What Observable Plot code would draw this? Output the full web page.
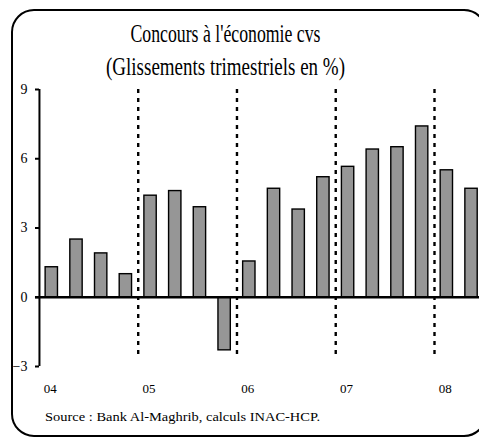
<!DOCTYPE html>
<html>
<head>
<meta charset="utf-8">
<script src="https://cdn.jsdelivr.net/npm/d3@7"></script>
<script src="https://cdn.jsdelivr.net/npm/@observablehq/plot@0.6"></script>
<style>
  html, body { margin: 0; padding: 0; background: white; overflow: hidden; width: 479px; height: 437px; }
  #wrap { position: relative; width: 479px; height: 437px; overflow: hidden; background: white; }
  #chart { position: absolute; left: 0; top: 0; width: 479px; height: 437px; overflow: hidden; }
  #chart svg { max-width: none !important; }
  #texts { position: absolute; left: 0; top: 0; font-family: 'Liberation Serif', 'Times New Roman', serif; }
</style>
</head>
<body>
<div id="wrap">
  <div id="chart"></div>
  <svg id="texts" width="479" height="437" viewBox="0 0 479 437">
    <rect x="12" y="10" width="474" height="426" rx="22" ry="22" fill="none" stroke="black" stroke-width="2"></rect>
    <text id="t1" x="225.5" y="42" text-anchor="middle" font-size="25.5" textLength="190" lengthAdjust="spacingAndGlyphs"></text>
    <text id="t2" x="225.5" y="75" text-anchor="middle" font-size="25.5" textLength="239" lengthAdjust="spacingAndGlyphs"></text>
    <text id="src" x="45" y="421" font-size="13.5" textLength="275" lengthAdjust="spacingAndGlyphs"></text>
  </svg>
</div>
<script>
const titleLine1 = "Concours à l'économie cvs";
const titleLine2 = "(Glissements trimestriels en %)";
const sourceText = "Source : Bank Al-Maghrib, calculs INAC-HCP.";

const quarters = ["04T1","04T2","04T3","04T4","05T1","05T2","05T3","05T4","06T1","06T2","06T3","06T4","07T1","07T2","07T3","07T4","08T1","08T2"];
const values = [1.3, 2.5, 1.9, 1.0, 4.4, 4.6, 3.9, -2.3, 1.55, 4.7, 3.8, 5.2, 5.65, 6.4, 6.5, 7.4, 5.5, 4.7];
const yearStarts = ["04T1","05T1","06T1","07T1","08T1"];
const yearLabels = ["04","05","06","07","08"];
const separators = ["05T1","06T1","07T1","08T1"];
const yTicks = [-3, 0, 3, 6, 9];

document.getElementById("t1").textContent = titleLine1;
document.getElementById("t2").textContent = titleLine2;
document.getElementById("src").textContent = sourceText;

const data = quarters.map((q, i) => ({q, v: values[i]}));
const step = 24.69;
const firstCenter = 51.3;
const x0 = firstCenter - 0.75 * step;          // band range start with padding 0.5
const x1 = x0 + (quarters.length + 0.5) * step; // band range end
const halfStep = step / 2;

const chart = Plot.plot({
  width: Math.ceil(x1),
  height: 437,
  marginLeft: x0,
  marginRight: Math.ceil(x1) - x1,
  marginTop: 89,
  marginBottom: 71,
  style: {fontFamily: "'Liberation Serif', 'Times New Roman', serif", background: "transparent"},
  x: {domain: quarters, padding: 0.5, round: false, range: [x0, x1], axis: null},
  y: {domain: [-3, 9], range: [366, 89], axis: null},
  marks: [
    Plot.barY(data, {x: "q", y: "v", fill: "#969696", stroke: "black", strokeWidth: 1.4}),
    Plot.ruleY([0], {stroke: "black", strokeWidth: 2.4, insetLeft: 2.2}),
    Plot.ruleX([quarters[0]], {dx: -halfStep, y1: -3, y2: 9, stroke: "black", strokeWidth: 2}),
    Plot.ruleX(separators, {dx: -halfStep, y1: 9, y2: -2.65, stroke: "black", strokeWidth: 2.4, strokeDasharray: "4,5"}),
    Plot.axisY({ticks: yTicks, tickSize: 4, tickPadding: 8, fontSize: 14, strokeWidth: 2, dx: 6.2, label: null}),
    Plot.axisX({ticks: yearStarts, tickFormat: d => yearLabels[yearStarts.indexOf(d)], tickSize: 0, tickPadding: 17, fontSize: 13, dx: -1.5, label: null})
  ]
});
document.getElementById("chart").appendChild(chart);
</script>
</body>
</html>
